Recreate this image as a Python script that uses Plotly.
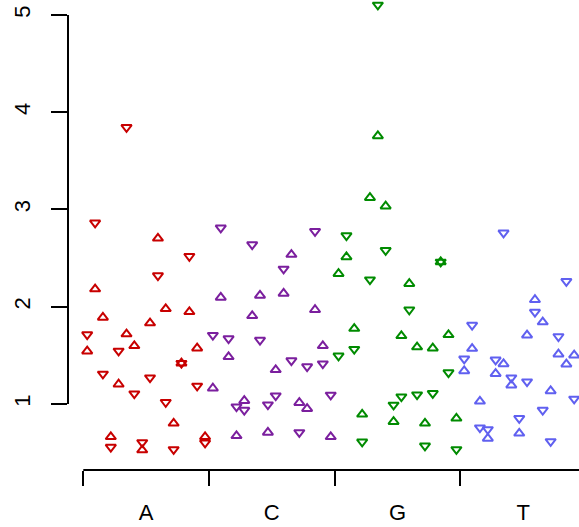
import plotly.graph_objects as go

# Nucleotide groups on the x axis
categories = ["A", "C", "G", "T"]

# Sixteen within-group slots (offset from the group centre)
slot_offsets = [-0.469, -0.406, -0.344, -0.281, -0.219, -0.156, -0.094, -0.031,
                0.031, 0.094, 0.156, 0.219, 0.281, 0.344, 0.406, 0.469]

# Values per slot: forward (up triangle) and reverse (down triangle)
A_up = [1.543, 2.182, 1.890, 0.663, 1.203, 1.719, 1.598, 0.526,
        1.832, 2.704, 1.979, 0.801, 1.420, 1.948, 1.574, 0.663]
A_down = [1.714, 2.863, 1.309, 0.557, 1.546, 3.845, 1.106, 0.605,
          1.271, 2.320, 1.018, 0.533, 1.420, 2.519, 1.186, 0.601]

C_up = [1.162, 2.096, 1.485, 0.673, 1.034, 1.907, 2.116, 0.708,
        1.351, 2.137, 2.536, 1.013, 0.952, 1.969, 1.598, 0.663]
C_down = [1.708, 2.811, 1.673, 0.972, 0.938, 2.639, 1.657, 0.993,
          1.086, 2.389, 1.446, 0.708, 1.385, 2.776, 1.415, 1.093]

G_up = [2.340, 2.512, 1.776, 0.894, 3.121, 3.756, 3.034, 0.818,
        1.701, 2.237, 1.585, 0.801, 1.574, 2.461, 1.711, 0.853]
G_down = [1.495, 2.732, 1.564, 0.611, 2.278, 5.103, 2.580, 0.990,
          1.075, 1.969, 1.096, 0.570, 1.110, 2.461, 1.323, 0.533]

T_up = [1.340, 1.570, 1.028, 0.646, 1.312, 1.412, 1.193, 0.698,
        1.708, 2.072, 1.842, 1.134, 1.512, 1.409, 1.502, 0.740]
T_down = [1.464, 1.811, 0.756, 0.739, 1.454, 2.760, 1.271, 0.853,
          1.230, 1.945, 0.938, 0.615, 1.694, 2.261, 1.052, 0.720]

y_ticks = [1, 2, 3, 4, 5]

colors = {"A": "#C80000", "C": "#7B1F9E", "G": "#008B00", "T": "#6060F0"}
series = {"A": (A_up, A_down), "C": (C_up, C_down),
          "G": (G_up, G_down), "T": (T_up, T_down)}

fig = go.Figure()
for i, cat in enumerate(categories):
    up, down = series[cat]
    xs = [i + 1 + o for o in slot_offsets]
    for vals, sym in ((up, "triangle-up-open"), (down, "triangle-down-open")):
        fig.add_trace(go.Scatter(
            x=xs, y=vals, mode="markers", cliponaxis=False, showlegend=False,
            marker=dict(symbol=sym, size=9, color=colors[cat],
                        line=dict(width=2, color=colors[cat])),
        ))

font = dict(family="Liberation Sans, Arial, sans-serif", size=22, color="black")

fig.update_layout(
    width=579, height=527,
    margin=dict(l=68, r=0, t=0, b=57),
    plot_bgcolor="white", paper_bgcolor="white",
    font=font,
    xaxis=dict(
        range=[0.3783, 4.4445], showgrid=False, zeroline=False, showline=False,
        automargin=False,
        tickmode="array", tickvals=[1, 2, 3, 4], ticktext=categories,
        ticks="", ticklabelstandoff=27, tickfont=font,
        minor=dict(tickmode="array", tickvals=[0.5, 1.5, 2.5, 3.5, 4.5],
                   ticks="outside", ticklen=15, tickwidth=2, tickcolor="black",
                   showgrid=False),
    ),
    yaxis=dict(
        range=[0.3213, 5.154], showgrid=False, zeroline=False, showline=False,
        automargin=False,
        tickmode="array", tickvals=y_ticks, ticks="outside", ticklen=16,
        tickwidth=2, tickcolor="black", tickangle=-90, tickfont=font,
        ticklabelstandoff=12,
    ),
    shapes=[
        dict(type="line", xref="paper", yref="y", x0=0, x1=0, y0=1, y1=5,
             line=dict(color="black", width=2)),
        dict(type="line", xref="x", yref="paper", x0=0.5, x1=4.5, y0=0, y1=0,
             line=dict(color="black", width=2)),
    ],
)

fig.write_html("out.html")
